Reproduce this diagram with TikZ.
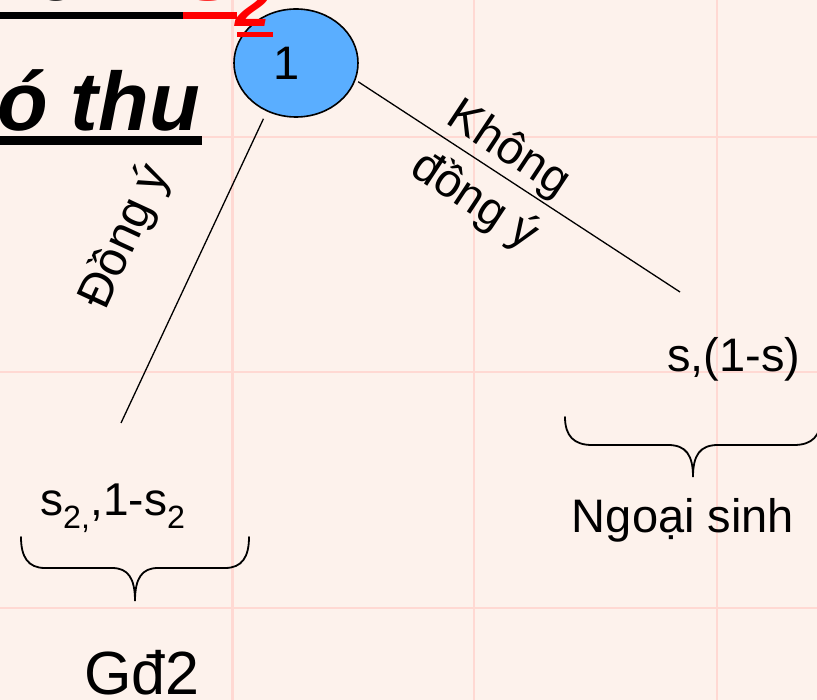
\documentclass[tikz,border=0pt]{standalone}
\usepackage{fontspec}
\setmainfont{Liberation Sans}
\usetikzlibrary{shapes.geometric}
\definecolor{paper}{RGB}{253,242,236}
\definecolor{gridpink}{RGB}{255,217,211}
\definecolor{nodeblue}{RGB}{90,174,255}
\definecolor{titlered}{RGB}{255,0,0}
\tikzset{
  lbl/.style={inner sep=0pt, font=\fontsize{47}{62}\selectfont},
  branch/.style={line width=1.3pt, black},
  bracepath/.style={line width=1.8pt, black, line cap=round},
  titletext/.style={inner sep=0pt, font=\fontsize{83}{90}\selectfont\bfseries\itshape},
}
\begin{document}
\begin{tikzpicture}[x=1pt, y=-1pt]
  \useasboundingbox (0,0) rectangle (817,700);
  \clip (0,0) rectangle (817,700);

  % paper and grid
  \fill[paper] (0,0) rectangle (817,700);
  \foreach \gx in {232.5, 474, 717}
    \draw[gridpink, line width=2.6pt] (\gx,0) -- (\gx,700);
  \foreach \gy in {137, 372, 608}
    \draw[gridpink, line width=2.6pt] (0,\gy) -- (817,\gy);

  % decision node with its number set a little left of centre
  \node[ellipse, draw=black, line width=1.6pt, fill=nodeblue,
        minimum width=124pt, minimum height=108pt, inner sep=0pt] (root) at (296,63) {};
  \node[lbl] (rootNum) at ([xshift=-9pt]root.center) {1};
  \coordinate (yesEnd) at (121,423);
  \coordinate (noEnd) at (680,292);

  % heading lines at the top left (drawn over the node)
  \node[titletext, anchor=base east] (headA) at (183,1) {ơi 1 };
  \node[titletext, anchor=base west, text=titlered] (headS) at (183,1) {S};
  \node[inner sep=0pt, anchor=base west, text=titlered,
        font=\fontsize{63}{63}\selectfont\bfseries\itshape] (headSub) at (235,27) {2};
  \fill[black] (0,12) rectangle (183,19);
  \fill[titlered] (183,12) rectangle (237,19);
  \fill[titlered] (237,32) rectangle (273,37);
  \node[titletext, anchor=base west] (headB) at (-3,131) {ó thu};
  \fill[black] (0,136) rectangle (202,145);

  % branches
  \draw[branch, shorten <=8pt] (root.-121) -- (yesEnd);
  \draw[branch, shorten <=3pt] (root.-16) -- (noEnd);

  \node[lbl, rotate=65.2, font=\fontsize{48}{60}\selectfont] (yesLbl) at (125,237) {Đồng ý};
  \node[lbl, rotate=-33.5, align=center] (noLbl) at (491,176) {Không\\đồng ý};

  % payoffs
  \node[lbl, anchor=base west] (noPay) at (667,372) {s,(1-s)};
  \node[lbl, anchor=base west, font=\fontsize{46}{50}\selectfont] (yesPay) at (40,515)
    {s\textsubscript{2,},1-s\textsubscript{2}};

  % braces under the payoffs
  \draw[bracepath] (21,537) .. controls (21,557) and (28,568) .. (45,568)
    -- (112,568) .. controls (128,568) and (135,578) .. (135,601)
    .. controls (135,578) and (142,568) .. (158,568)
    -- (225,568) .. controls (242,568) and (249,557) .. (249,537);
  \draw[bracepath] (565,417) .. controls (565,436) and (574,445) .. (592,445)
    -- (668,445) .. controls (686,445) and (693,455) .. (693,477)
    .. controls (693,455) and (700,445) .. (718,445)
    -- (794,445) .. controls (812,445) and (821,436) .. (821,417);

  % stage labels
  \node[lbl, anchor=base] (outLbl) at (683,532) {Ngoại sinh};
  \node[lbl, anchor=base west, font=\fontsize{61}{62}\selectfont] (stageLbl) at (84,694) {Gđ2};
\end{tikzpicture}
\end{document}
